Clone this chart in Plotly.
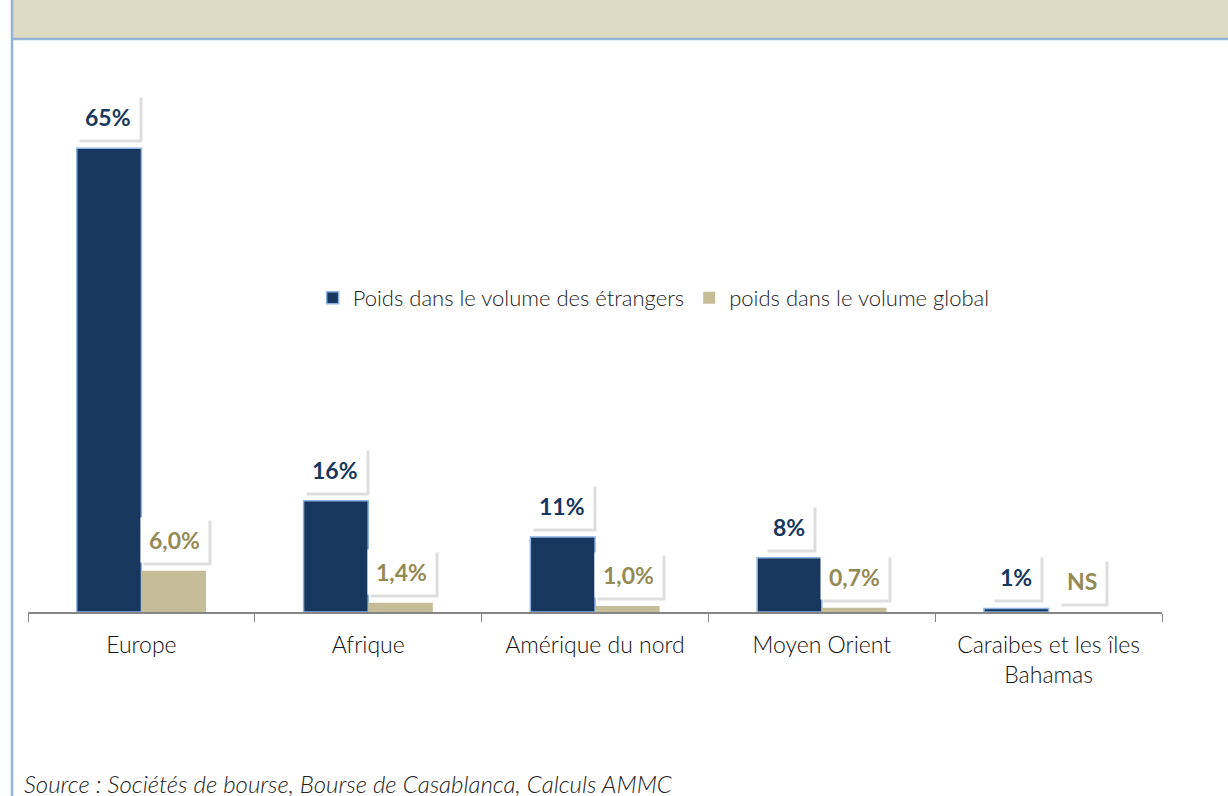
import plotly.graph_objects as go

regions = ["Europe", "Afrique", "Amérique du nord", "Moyen Orient", "Caraibes et les îles<br>Bahamas"]
poids_etrangers = [65, 15.6, 10.5, 7.6, 0.5]
poids_etrangers_labels = ["65%", "16%", "11%", "8%", "1%"]
poids_global = [5.8, 1.3, 0.85, 0.6, 0]
poids_global_labels = ["6,0%", "1,4%", "1,0%", "0,7%", "NS"]

NAVY = "#17375E"
BEIGE = "#C4BD97"
BEIGE_TXT = "#948A54"
BORDER = "#95B3D7"
THIN = "Lato, Noto Sans, sans-serif"

fig = go.Figure()
fig.add_trace(go.Bar(
    x=regions, y=poids_etrangers, name="Poids dans le volume des étrangers",
    marker=dict(color=NAVY, line=dict(color="#8DB3E2", width=1.5)),
    hoverinfo="skip",
))
fig.add_trace(go.Bar(
    x=regions, y=poids_global, name="poids dans le volume global",
    marker=dict(color=BEIGE, line=dict(width=0)),
    hoverinfo="skip",
))

# data labels in white boxes with a soft shadow
for series, labels, shift, col in [
    (poids_etrangers, poids_etrangers_labels, -33, NAVY),
    (poids_global, poids_global_labels, 33, BEIGE_TXT),
]:
    for cat, v, lab in zip(regions, series, labels):
        font = dict(family="Lato, Open Sans, sans-serif", size=23, weight="bold")
        common = dict(x=cat, y=v, xref="x", yref="y", showarrow=False,
                      yanchor="bottom", borderpad=8)
        fig.add_annotation(text=lab, xshift=shift + 3, yshift=5, bgcolor="rgba(0,0,0,0.13)",
                           font=dict(font, color="rgba(0,0,0,0)"), **common)
        fig.add_annotation(text=lab, xshift=shift, yshift=8, bgcolor="white",
                           font=dict(font, color=col), **common)

# header band and frame lines
fig.add_shape(type="rect", xref="paper", yref="paper", x0=-0.0141, x1=1.06, y0=1.0729, y1=1.15,
              fillcolor="#DDD9C3", line=dict(width=0), layer="below")
fig.add_shape(type="line", xref="paper", yref="paper", x0=-0.0141, x1=1.06, y0=1.0710, y1=1.0710,
              line=dict(color=BORDER, width=2.5))
fig.add_shape(type="line", xref="paper", yref="paper", x0=-0.0141, x1=-0.0141, y0=1.15, y1=-0.36,
              line=dict(color=BORDER, width=2.5))

fig.add_annotation(text="Source : Sociétés de bourse, Bourse de Casablanca, Calculs AMMC",
                   xref="paper", yref="paper", x=-0.005, y=-0.32, xanchor="left", yanchor="middle",
                   showarrow=False,
                   font=dict(family=THIN, size=24, color="#222222", style="italic", weight=300))

fig.update_layout(
    width=1228, height=796,
    margin=dict(l=28, r=66, t=77, b=184),
    paper_bgcolor="white", plot_bgcolor="white",
    barmode="group", bargap=0.43, bargroupgap=0,
    font=dict(family=THIN, size=22, color="#111111", weight=300),
    legend=dict(orientation="h", x=0.251, y=0.587, xanchor="left", yanchor="middle",
                font=dict(family=THIN, size=22, color="#222222", weight=300),
                itemwidth=30, bgcolor="rgba(0,0,0,0)"),
    xaxis=dict(showline=True, linecolor="#868686", linewidth=1.5, ticks="outside",
               tickson="boundaries", ticklen=8, tickcolor="#868686", ticklabelstandoff=12,
               tickfont=dict(family=THIN, size=23, color="#111111", weight=300), showgrid=False),
    yaxis=dict(range=[0, 75], visible=False, showgrid=False, zeroline=False),
)

fig.write_html("out.html", config={"displayModeBar": False},
               post_script="document.body.style.margin='0';document.body.style.overflow='hidden';")
